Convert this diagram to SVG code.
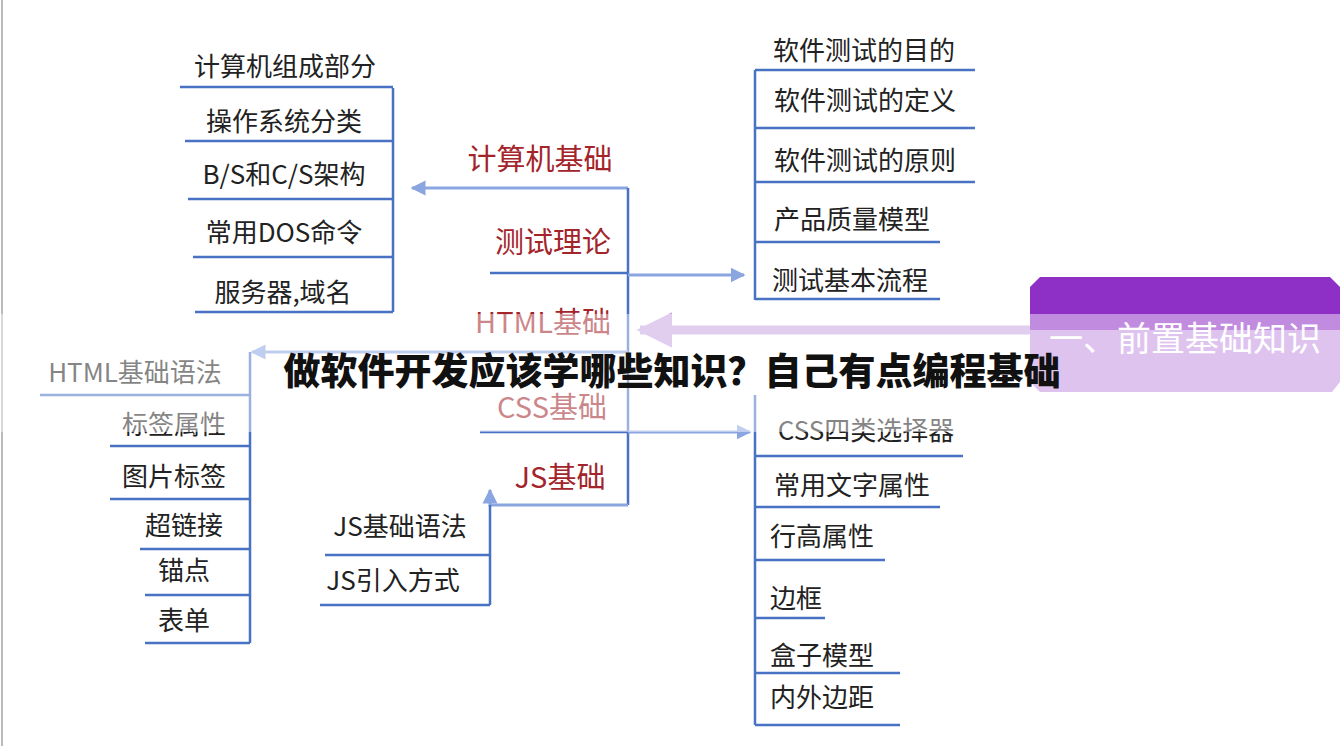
<svg xmlns="http://www.w3.org/2000/svg" width="1342" height="746" viewBox="0 0 1342 746">
<style>
text{font-family:"Noto Sans CJK SC","Noto Sans",sans-serif;}
.it{font-size:26px;fill:#222;text-anchor:middle}
.br{font-size:29px;fill:#a3242b;text-anchor:middle}
.ln{stroke:#4a72c4;stroke-width:2.5;fill:none}
.ar{stroke:#8ba5e0;stroke-width:3;fill:none}
</style>
<defs>
<marker id="ah" viewBox="0 0 10 10" refX="9" refY="5" markerWidth="5" markerHeight="6" orient="auto" markerUnits="strokeWidth"><path d="M0,0L10,5L0,10z" fill="#8ba5e0"/></marker>
<marker id="ap" viewBox="0 0 10 10" refX="9" refY="5" markerWidth="4" markerHeight="5" orient="auto" markerUnits="strokeWidth"><path d="M0,0L10,5L0,10z" fill="#c9a6e0"/></marker>
</defs>
<rect width="1342" height="746" fill="#fff"/>
<line x1="2" y1="0" x2="2" y2="746" stroke="#bbb" stroke-width="2"/>
<g id="connectors">
<path class="ar" d="M628,188H412" marker-end="url(#ah)"/>
<path class="ln" d="M628,188V505"/>
<path class="ar" d="M628,275H744" marker-end="url(#ah)"/>
<path class="ar" d="M628,352H252" marker-end="url(#ah)"/>
<path class="ar" d="M628,432H750" marker-end="url(#ah)"/>
<path class="ar" d="M628,505H490V490" marker-end="url(#ah)"/>
<path d="M1030,330H640" stroke="#c9a6e0" stroke-width="9" fill="none" marker-end="url(#ap)"/>
<path class="ln" d="M490,273H628M480,432H628"/>
<path class="ln" d="M393,88V312M755,70V300M250,352V643M755,395V725M490,505V605"/>
<path class="ln" d="M180,87H393M185,141H393M188,199H393M193,257H393M195,312H393"/>
<path class="ln" d="M755,70H975M755,128H975M755,182H975M755,242H940M755,299H940"/>
<path class="ln" d="M40,395H250M110,446H250M110,499H250M140,549H250M145,595H250M145,643H250"/>
<path class="ln" d="M755,456H963M755,507H940M755,560H885M755,618H825M755,673H900M755,725H900"/>
<path class="ln" d="M325,555H490M320,605H490"/>
</g>
<g id="n-jsj"><text class="br" x="540" y="170">计算机基础</text></g>
<g id="n-cs"><text class="br" x="553" y="253">测试理论</text></g>
<g id="n-html"><text class="br" x="543" y="333">HTML基础</text></g>
<g id="n-css"><text class="br" x="552" y="418">CSS基础</text></g>
<g id="n-js"><text class="br" x="560" y="488">JS基础</text></g>
<g id="n-l1">
<text class="it" x="285" y="76">计算机组成部分</text>
<text class="it" x="284" y="131">操作系统分类</text>
<text class="it" x="284" y="184">B/S和C/S架构</text>
<text class="it" x="284" y="242">常用DOS命令</text>
<text class="it" x="283" y="302">服务器,域名</text>
</g>
<g id="n-r1">
<text class="it" x="864" y="60">软件测试的目的</text>
<text class="it" x="865" y="110">软件测试的定义</text>
<text class="it" x="865" y="170">软件测试的原则</text>
<text class="it" x="852" y="229">产品质量模型</text>
<text class="it" x="850" y="290">测试基本流程</text>
</g>
<g id="n-l2">
<text class="it" x="135" y="382">HTML基础语法</text>
<text class="it" x="174" y="434">标签属性</text>
<text class="it" x="174" y="486">图片标签</text>
<text class="it" x="184" y="535">超链接</text>
<text class="it" x="184" y="580">锚点</text>
<text class="it" x="184" y="630">表单</text>
</g>
<g id="n-r2">
<text class="it" x="866" y="440">CSS四类选择器</text>
<text class="it" x="852" y="495">常用文字属性</text>
<text class="it" x="822" y="546">行高属性</text>
<text class="it" x="796" y="608">边框</text>
<text class="it" x="822" y="665">盒子模型</text>
<text class="it" x="822" y="707">内外边距</text>
</g>
<g id="n-js2">
<text class="it" x="400" y="536">JS基础语法</text>
<text class="it" x="393" y="590">JS引入方式</text>
</g>
<g id="n-root">
<path d="M1040,277H1330L1340,287V330H1030V287Z" fill="#8e2fc6"/>
<path d="M1030,330H1340V382L1332,392H1040L1030,382Z" fill="#c592e2"/>
<text x="1185" y="351" font-size="34" fill="#fff" text-anchor="middle">一、前置基础知识</text>
</g>
<rect x="0" y="314" width="1342" height="118" fill="#fff" opacity="0.45"/>
<text x="672" y="385" font-size="37" font-weight="900" fill="#111" text-anchor="middle" style="font-family:'Noto Sans CJK SC',sans-serif">做软件开发应该学哪些知识？自己有点编程基础</text>
</svg>
